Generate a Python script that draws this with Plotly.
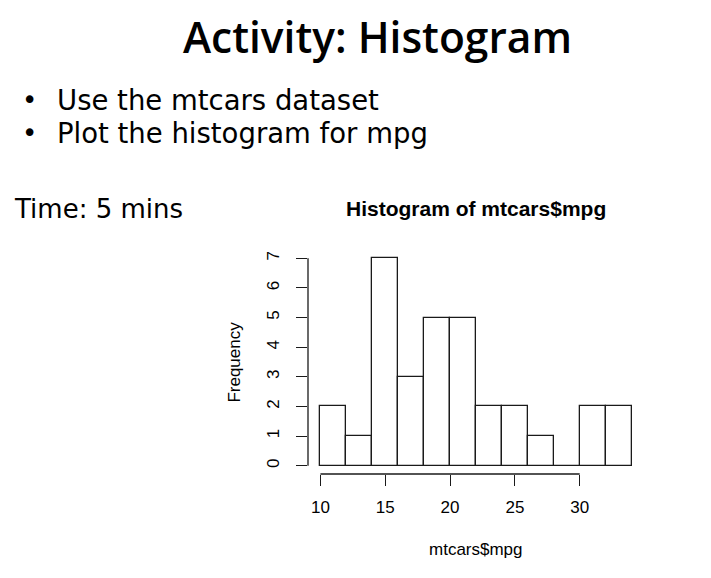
import plotly.graph_objects as go

# ---- data ----
bin_edges = [10, 12, 14, 16, 18, 20, 22, 24, 26, 28, 30, 32, 34]
counts = [2, 1, 7, 3, 5, 5, 2, 2, 1, 0, 2, 2]
x_ticks = [10, 15, 20, 25, 30]
y_ticks = [0, 1, 2, 3, 4, 5, 6, 7]

slide_title = "Activity: Histogram"
bullets = ["Use the mtcars dataset", "Plot the histogram for mpg"]
time_text = "Time: 5 mins"
chart_title = "Histogram of mtcars$mpg"
x_label = "mtcars$mpg"
y_label = "Frequency"

centers = [(a + b) / 2 for a, b in zip(bin_edges[:-1], bin_edges[1:])]
widths = [b - a for a, b in zip(bin_edges[:-1], bin_edges[1:])]

OFF = 8  # page body margin
W, H = 711 - OFF, 578 - OFF
L, R, T, B = 307.5 - OFF, 644.0 - OFF, 249.7 - OFF, 474.3 - OFF


def px(xp):
    return (xp - OFF - L) / (R - L)


def py(yp):
    return (B - (yp - OFF)) / (B - T)


AX = "#1a1a1a"
RFONT = "Liberation Sans, Arial, sans-serif"
SFONT = "DejaVu Sans, sans-serif"
TFONT = "Open Sans, DejaVu Sans, sans-serif"

fig = go.Figure()
fig.add_trace(go.Bar(
    x=centers, y=counts, width=widths,
    marker=dict(color="white", line=dict(color=AX, width=1.3)),
    showlegend=False, hoverinfo="skip",
))

xmin, xmax = bin_edges[0], bin_edges[-1]
ymax = max(counts)
xpad = 0.04 * (xmax - xmin)
ypad = 0.04 * ymax

fig.update_layout(
    width=W, height=H,
    margin=dict(l=L, r=W - R, t=T, b=H - B, pad=0),
    paper_bgcolor="white", plot_bgcolor="white",
    bargap=0,
    xaxis=dict(range=[xmin - xpad, xmax + xpad], tickvals=x_ticks,
               ticks="outside", ticklen=11, tickwidth=1.3, tickcolor=AX,
               showline=False, showgrid=False, zeroline=False,
               tickfont=dict(family=RFONT, size=17, color="black"),
               ticklabelstandoff=7),
    yaxis=dict(range=[-ypad, ymax + ypad], tickvals=y_ticks,
               ticks="outside", ticklen=11, tickwidth=1.3, tickcolor=AX,
               showline=False, showgrid=False, zeroline=False,
               tickangle=-90,
               tickfont=dict(family=RFONT, size=17, color="black"),
               ticklabelstandoff=10),
)

# R-style axis lines spanning first to last tick
fig.add_shape(type="line", xref="x", yref="paper",
              x0=min(x_ticks), x1=max(x_ticks), y0=0, y1=0,
              line=dict(color=AX, width=1.3))
fig.add_shape(type="line", xref="paper", yref="y",
              x0=0, x1=0, y0=min(y_ticks), y1=max(y_ticks),
              line=dict(color=AX, width=1.3))

ann = []
ann.append(dict(text=f"<b>{chart_title}</b>", x=px(475.5), y=py(208),
                font=dict(family=RFONT, size=21, color="black")))
ann.append(dict(text=x_label, x=px(475.5), y=py(550),
                font=dict(family=RFONT, size=17, color="black")))
ann.append(dict(text=y_label, x=px(233), y=py(362), textangle=-90,
                font=dict(family=RFONT, size=17, color="black")))
ann.append(dict(text=slide_title, x=px(377.5), y=py(36),
                font=dict(family=TFONT, size=42.5, color="black", weight=600)))
for i, b in enumerate(bullets):
    yy = 99 + 33 * i
    ann.append(dict(text="•", x=px(29), y=py(yy),
                    font=dict(family=SFONT, size=26, color="black")))
    ann.append(dict(text=b, x=px(54), y=py(yy), xanchor="left",
                    font=dict(family=SFONT, size=27.5, color="black")))
ann.append(dict(text=time_text, x=px(11), y=py(209), xanchor="left",
                font=dict(family=SFONT, size=26, color="black")))

for a in ann:
    a.setdefault("xanchor", "center")
    a.update(xref="paper", yref="paper", yanchor="middle", showarrow=False)
fig.update_layout(annotations=ann)

fig.write_html("out.html")
